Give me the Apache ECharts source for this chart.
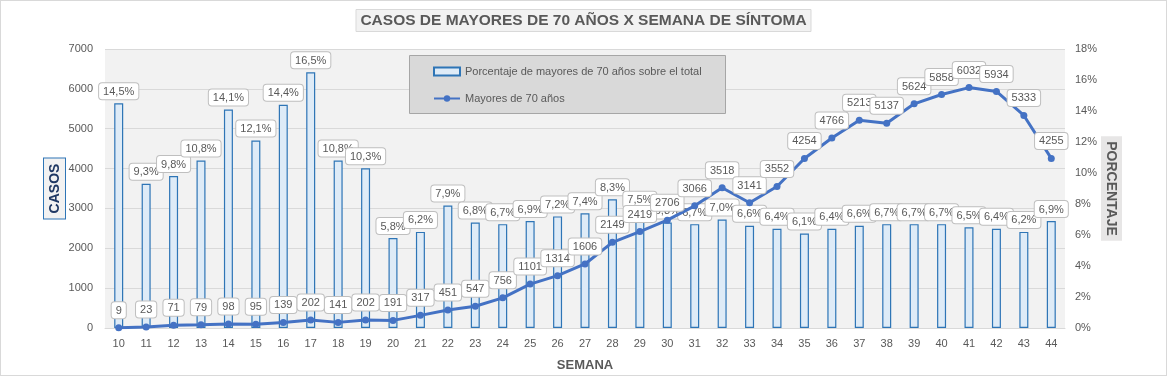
<!DOCTYPE html>
<html>
<head>
<meta charset="utf-8">
<script src="https://cdn.jsdelivr.net/npm/echarts@6/dist/echarts.min.js"></script>
<style>
  html, body { margin: 0; padding: 0; background: #fff; }
  #main { width: 1165px; height: 374px; border: 1px solid #d9d9d9; }
</style>
</head>
<body>
<div id="main"></div>
<script>
// weeks of symptom onset
var semanas = ['10','11','12','13','14','15','16','17','18','19','20','21','22','23','24','25','26','27',
  '28','29','30','31','32','33','34','35','36','37','38','39','40','41','42','43','44'];
// cases over 70 years old
var mayores70 = [9, 23, 71, 79, 98, 95, 139, 202, 141, 202, 191, 317, 451, 547, 756, 1101, 1314, 1606,
  2149, 2419, 2706, 3066, 3518, 3141, 3552, 4254, 4766, 5213, 5137, 5624, 5858, 6032, 5934, 5333, 4255];
// percentage of over-70 over total
var porcentaje = [14.5, 9.3, 9.8, 10.8, 14.1, 12.1, 14.4, 16.5, 10.8, 10.3, 5.8, 6.2, 7.9, 6.8, 6.7, 6.9, 7.2, 7.4,
  8.3, 7.5, 6.8, 6.7, 7.0, 6.6, 6.4, 6.1, 6.4, 6.6, 6.7, 6.7, 6.7, 6.5, 6.4, 6.2, 6.9];

var dom = document.getElementById('main');
var myChart = echarts.init(dom);
var txt = '#595959';
var font = 'Liberation Sans';

var boxLabel = {
    show: true,
    position: 'top',
    distance: 4,
    color: txt,
    fontFamily: font,
    fontSize: 11,
    backgroundColor: '#ffffff',
    borderColor: '#bfbfbf',
    borderWidth: 1,
    borderRadius: 3,
    padding: [3, 4, 2, 4]
};

var option = {
    backgroundColor: '#ffffff',
    textStyle: { fontFamily: font },
    title: {
        text: 'CASOS DE MAYORES DE 70 AÑOS X SEMANA DE SÍNTOMA',
        left: 'center',
        top: 8,
        padding: [4, 5, 3, 5],
        backgroundColor: '#f2f2f2',
        borderColor: '#d9d9d9',
        borderWidth: 1,
        textStyle: { color: txt, fontSize: 15.5, fontWeight: 'bold', fontFamily: font }
    },
    graphic: [{
        type: 'rect',
        left: 408, top: 54,
        shape: { width: 316, height: 58 },
        style: { fill: '#d9d9d9', stroke: '#a6a6a6', lineWidth: 1 },
        z: 10
    }],
    legend: {
        orient: 'vertical',
        left: 427,
        top: 60,
        itemGap: 16,
        itemWidth: 26,
        itemHeight: 8,
        z: 11,
        textStyle: { color: txt, fontSize: 11, fontFamily: font },
        data: [
            { name: 'Porcentaje de mayores de 70 años sobre el total', icon: 'rect' },
            { name: 'Mayores de 70 años' }
        ]
    },
    grid: {
        left: 104, right: 101, top: 48, bottom: 47,
        outerBoundsMode: 'none',
        containLabel: false,
        show: true, backgroundColor: '#f2f2f2', borderWidth: 0
    },
    xAxis: {
        type: 'category',
        data: semanas,
        name: 'SEMANA',
        nameLocation: 'middle',
        nameGap: 31,
        nameMoveOverlap: false,
        nameTextStyle: { color: txt, fontSize: 13, fontWeight: 'bold', fontFamily: font },
        axisLine: { lineStyle: { color: '#d9d9d9' } },
        axisTick: { show: false },
        axisLabel: { color: txt, fontSize: 11, margin: 10 }
    },
    yAxis: [{
        type: 'value',
        min: 0, max: 7000, interval: 1000,
        name: 'CASOS',
        nameLocation: 'middle',
        nameRotate: 90,
        nameGap: 40,
        nameMoveOverlap: false,
        nameTextStyle: {
            color: '#1f3864', fontSize: 14, fontWeight: 'bold', fontFamily: font,
            backgroundColor: '#f2f2f2', borderColor: '#2e75b6', borderWidth: 1,
            padding: [4, 5, 3, 5]
        },
        axisLine: { show: false },
        axisTick: { show: false },
        axisLabel: { color: txt, fontSize: 11, margin: 12, formatter: function (v) { return String(v); } },
        splitLine: { lineStyle: { color: '#d9d9d9' } }
    }, {
        type: 'value',
        min: 0, max: 18, interval: 2,
        name: 'PORCENTAJE',
        nameLocation: 'middle',
        nameRotate: -90,
        nameGap: 36,
        nameMoveOverlap: false,
        nameTextStyle: {
            color: txt, fontSize: 14, fontWeight: 'bold', fontFamily: font,
            backgroundColor: '#e7e6e6', padding: [4, 5, 3, 5]
        },
        axisLine: { show: false },
        axisTick: { show: false },
        axisLabel: { color: txt, fontSize: 11, margin: 10, formatter: '{value}%' },
        splitLine: { show: false }
    }],
    series: [{
        name: 'Porcentaje de mayores de 70 años sobre el total',
        type: 'bar',
        yAxisIndex: 1,
        barWidth: 9,
        itemStyle: { color: '#deebf7', borderColor: '#2e75b6', borderWidth: 1.2 },
        label: Object.assign({}, boxLabel, {
            formatter: function (p) { return p.value.toFixed(1).replace('.', ',') + '%'; }
        }),
        data: porcentaje
    }, {
        name: 'Mayores de 70 años',
        type: 'line',
        yAxisIndex: 0,
        symbol: 'circle',
        symbolSize: 7,
        itemStyle: { color: '#4472c4' },
        lineStyle: { color: '#4472c4', width: 3 },
        label: Object.assign({}, boxLabel, { distance: 6 }),
        data: mayores70
    }]
};

myChart.setOption(option);
</script>
</body>
</html>
